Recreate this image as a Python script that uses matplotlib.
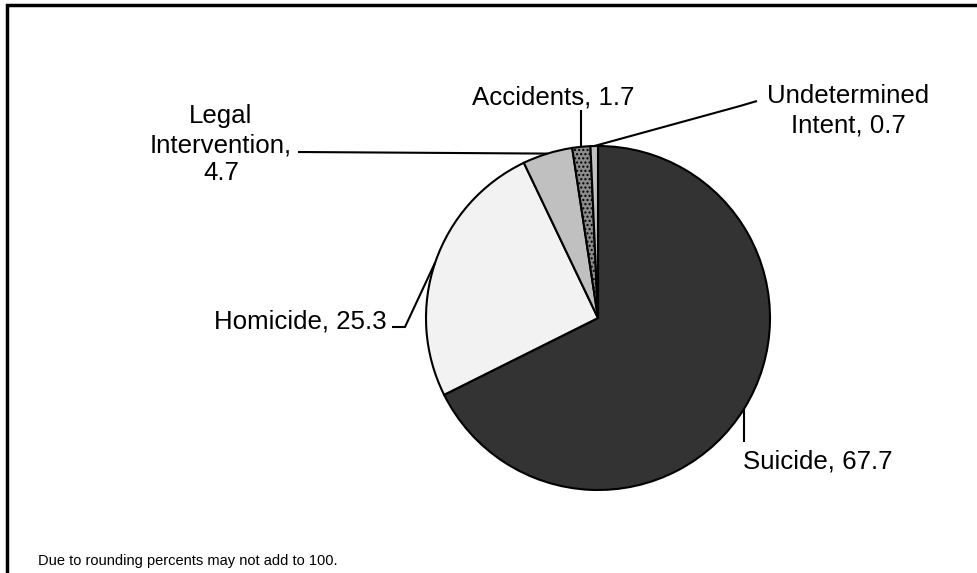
import numpy as np
import matplotlib.pyplot as plt
from matplotlib.patches import Rectangle

plt.rcParams['font.family'] = ['Liberation Sans', 'DejaVu Sans']

# Data (percent)
labels = ["Suicide", "Homicide", "Legal Intervention", "Accidents", "Undetermined Intent"]
values = [67.7, 25.3, 4.7, 1.7, 0.7]
colors = ["#333333", "#f2f2f2", "#c0c0c0", "#8c8c8c", "#c0c0c0"]
hatches = [None, None, None, "....", None]
note = "Due to rounding percents may not add to 100."

W, H = 977, 573
fig = plt.figure(figsize=(W / 100, H / 100), dpi=100)
ax = fig.add_axes([0, 0, 1, 1])

# work in pixel coords, y measured from the top
def py(y):
    return H - y

cx, cy, r = 598, 318, 172
wedges, _ = ax.pie(values, colors=colors, startangle=90, counterclock=False,
                   center=(cx, py(cy)), radius=r,
                   wedgeprops=dict(edgecolor="black", linewidth=1.5))
for w, h in zip(wedges, hatches):
    if h:
        w.set_hatch(h)

ax.set_xlim(0, W)
ax.set_ylim(0, H)
ax.set_aspect("equal")
ax.axis("off")

# leader elbows in px (from top-left)
elbows = [
    [],
    [(405, 327), (392, 327)],
    [(298, 152)],
    [],
    [(740, 106), (757, 101)],
]
vertical_end = {0: 442, 3: 110}

total = sum(values)
start = 90.0
for i, v in enumerate(values):
    mid = start - v / total * 360 / 2
    start -= v / total * 360
    x0 = cx + r * np.cos(np.radians(mid))
    y0 = cy - r * np.sin(np.radians(mid))
    xs, ys = [x0], [y0]
    if i in vertical_end:
        xs.append(x0)
        ys.append(vertical_end[i])
    for ex, ey in elbows[i]:
        xs.append(ex)
        ys.append(ey)
    ax.plot(xs, [py(y) for y in ys], color="black", lw=1.5, solid_capstyle="butt")

# label text lines: (text, x, baseline y, ha)
fs = 18.6
w1, w2 = labels[2].split(" ")
u1, u2 = labels[4].split(" ")
lines = [
    (f"{labels[0]}, {values[0]}", 743, 469, "left"),
    (f"{labels[1]}, {values[1]}", 387, 328, "right"),
    (w1, 221, 123, "center"),
    (f"{w2},", 221, 152, "center"),
    (f"{values[2]}", 221, 180, "center"),
    (f"{labels[3]}, {values[3]}", 553, 105, "center"),
    (u1, 848, 103, "center"),
    (f"{u2}, {values[4]}", 848, 132, "center"),
]
for txt, x, y, ha in lines:
    ax.text(x, py(y), txt, ha=ha, va="baseline", fontsize=fs)

ax.text(38, py(561), note, ha="left", va="center", fontsize=10.5)

# outer frame (top and left edges visible)
ax.add_patch(Rectangle((7, py(H + 20)), W + 20, H + 20 - 5, fill=False,
                       edgecolor="black", lw=2.5, clip_on=False))

fig.savefig("out.png", dpi=100)
